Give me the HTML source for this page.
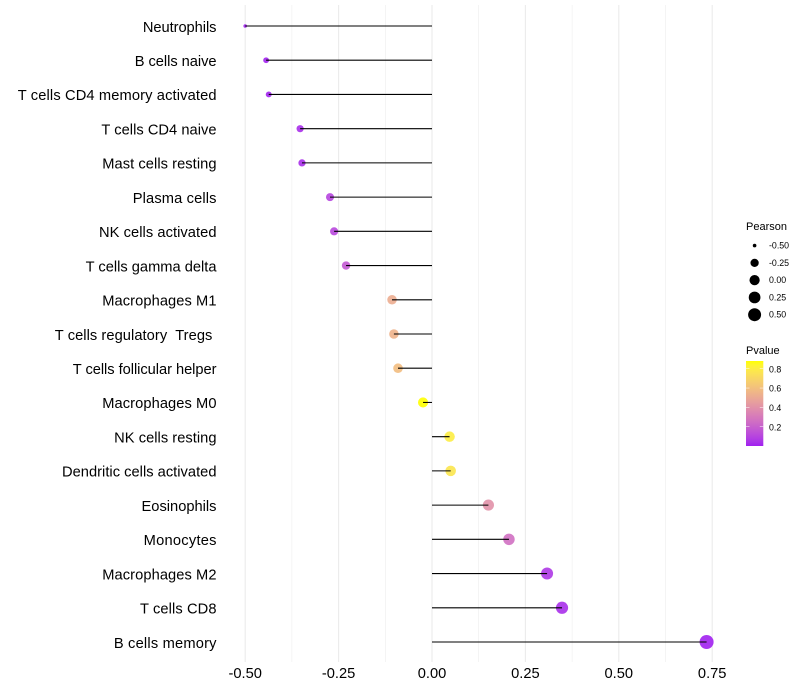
<!DOCTYPE html>
<html>
<head>
<meta charset="utf-8">
<title>Immune cell correlation lollipop chart</title>
<style>
html,body{margin:0;padding:0;background:#fff;}
svg{display:block;}
text{font-family:"Liberation Sans",sans-serif;}
</style>
</head>
<body>
<svg id="chart" xmlns="http://www.w3.org/2000/svg" width="800" height="700" viewBox="0 0 800 700">
<defs>
<linearGradient id="pvalue-gradient" x1="0" y1="1" x2="0" y2="0"></linearGradient>
</defs>
<rect x="0" y="0" width="800" height="700" fill="#ffffff"></rect>
<g id="grid"></g>
<g id="marks"></g>
<g id="ylabels"></g>
<g id="xlabels"></g>
<g id="size-legend"></g>
<g id="color-legend"></g>
</svg>
<script>
const categories = ["Neutrophils","B cells naive","T cells CD4 memory activated","T cells CD4 naive","Mast cells resting","Plasma cells","NK cells activated","T cells gamma delta","Macrophages M1","T cells regulatory  Tregs ","T cells follicular helper","Macrophages M0","NK cells resting","Dendritic cells activated","Eosinophils","Monocytes","Macrophages M2","T cells CD8","B cells memory"];
const pearson = [-0.5,-0.444,-0.437,-0.353,-0.348,-0.273,-0.262,-0.23,-0.107,-0.102,-0.091,-0.024,0.047,0.05,0.151,0.206,0.308,0.348,0.735];
const pvalue = [0.004,0.008,0.01,0.035,0.035,0.1,0.11,0.17,0.52,0.54,0.59,0.88,0.8,0.77,0.4,0.26,0.06,0.035,0.003];
const xTicks = [-0.5,-0.25,0,0.25,0.5,0.75];
const xTickLabels = ["-0.50","-0.25","0.00","0.25","0.50","0.75"];
const xMinorTicks = [-0.375,-0.125,0.125,0.375,0.625];
const sizeLegendValues = [-0.5,-0.25,0,0.25,0.5];
const sizeLegendLabels = ["-0.50","-0.25","0.00","0.25","0.50"];
const colorLegendTicks = [0.8,0.6,0.4,0.2];
const colorLegendLabels = ["0.8","0.6","0.4","0.2"];

const svgNS = "http://www.w3.org/2000/svg";
function make(tag, attrs, parent, txt) {
  const el = document.createElementNS(svgNS, tag);
  for (const k in attrs) el.setAttribute(k, attrs[k]);
  if (txt !== undefined) el.textContent = txt;
  parent.appendChild(el);
  return el;
}
function slug(s) { return s.trim().toLowerCase().replace(/[^a-z0-9]+/g, "-"); }

/* axis functions */
const xScale = v => 432 + v * 373.6;
const yScale = i => 26 + i * (616 / (categories.length - 1));
const pMin = 0, pMax = 0.88;
const pY = p => 446 - (p - pMin) / (pMax - pMin) * 85;
const sMin = -0.5, sMax = 0.735;
const radius = v => 1.8 + 5.2 * Math.sqrt(Math.max(0, (v - sMin) / (sMax - sMin)));

/* Lab interpolation purple to yellow */
function toLab(rgb) {
  const l = rgb.map(c => { c /= 255; return c > 0.04045 ? Math.pow((c + 0.055) / 1.055, 2.4) : c / 12.92; });
  const X = (0.4124 * l[0] + 0.3576 * l[1] + 0.1805 * l[2]) / 0.95047;
  const Y = 0.2126 * l[0] + 0.7152 * l[1] + 0.0722 * l[2];
  const Z = (0.0193 * l[0] + 0.1192 * l[1] + 0.9505 * l[2]) / 1.08883;
  const f = t => t > 0.008856 ? Math.cbrt(t) : 7.787 * t + 16 / 116;
  return [116 * f(Y) - 16, 500 * (f(X) - f(Y)), 200 * (f(Y) - f(Z))];
}
function fromLab(lab) {
  const fy = (lab[0] + 16) / 116, fx = fy + lab[1] / 500, fz = fy - lab[2] / 200;
  const g = t => t * t * t > 0.008856 ? t * t * t : (t - 16 / 116) / 7.787;
  const X = g(fx) * 0.95047, Y = g(fy), Z = g(fz) * 1.08883;
  const r = [3.2406 * X - 1.5372 * Y - 0.4986 * Z, -0.9689 * X + 1.8758 * Y + 0.0415 * Z, 0.0557 * X - 0.204 * Y + 1.057 * Z];
  return "rgb(" + r.map(c => {
    c = Math.min(1, Math.max(0, c));
    c = c > 0.0031308 ? 1.055 * Math.pow(c, 1 / 2.4) - 0.055 : 12.92 * c;
    return Math.round(c * 255);
  }).join(",") + ")";
}
const labLow = toLab([160, 32, 240]), labHigh = toLab([255, 255, 0]);
function pColor(p) {
  const t = Math.min(1, Math.max(0, (p - pMin) / (pMax - pMin)));
  return fromLab(labLow.map((a, i) => a + (labHigh[i] - a) * t));
}

/* grid */
const grid = document.getElementById("grid");
xMinorTicks.forEach(v => {
  const l = make("line", {x1: xScale(v), x2: xScale(v), y1: 5, y2: 662, stroke: "#ebebeb", "stroke-width": 0.53}, grid);
  
  
});
xTicks.forEach(v => {
  const l = make("line", {x1: xScale(v), x2: xScale(v), y1: 5, y2: 662, stroke: "#ebebeb", "stroke-width": 1.07}, grid);
  
  
});

/* marks */
const marks = document.getElementById("marks");
categories.forEach((c, i) => {
  const pt = make("circle", {cx: xScale(pearson[i]), cy: yScale(i), r: radius(pearson[i]), fill: pColor(pvalue[i]), "fill-opacity": 0.9}, marks);
  
  
});
categories.forEach((c, i) => {
  const ln = make("line", {x1: xScale(0), x2: xScale(pearson[i]), y1: yScale(i), y2: yScale(i), stroke: "#000000", "stroke-width": 1.07}, marks);
  
  
});

/* y labels: small per-label width corrections mimic the hinted advances of the reference font rendering */
const labelWidthFit = {"Neutrophils":-0.5,"B cells naive":-0.5,"T cells CD4 memory activated":3.5,"T cells CD4 naive":0.5,"Mast cells resting":1,"Plasma cells":1.5,"NK cells activated":1,"T cells gamma delta":0,"Macrophages M1":1,"T cells regulatory  Tregs ":1.5,"T cells follicular helper":-1,"Macrophages M0":1,"NK cells resting":0.5,"Dendritic cells activated":0.5,"Eosinophils":0,"Monocytes":2,"Macrophages M2":1,"T cells CD8":1,"B cells memory":2.5};
const yl = document.getElementById("ylabels");
categories.forEach((c, i) => {
  const t = make("text", {x: 216.5, y: yScale(i) + 5.8, "text-anchor": "end", "font-size": 14.67, fill: "#000000"}, yl, c);
  t.setAttribute("xml:space", "preserve");
  t.style.whiteSpace = "pre";
  
  
  const fit = labelWidthFit[c] || 0;
  t.setAttribute("textLength", (t.getComputedTextLength() + fit).toFixed(2));
  t.setAttribute("lengthAdjust", "spacing");
});

/* x labels */
const xl = document.getElementById("xlabels");
xTicks.forEach((v, i) => {
  const t = make("text", {x: xScale(v), y: 678, "text-anchor": "middle", "font-size": 14.67, fill: "#000000"}, xl, xTickLabels[i]);
  
  
});

/* size legend */
const sl = document.getElementById("size-legend");
const slTitle = make("text", {x: 746, y: 230, "font-size": 11, fill: "#000000"}, sl, "Pearson");


sizeLegendValues.forEach((v, i) => {
  const y = 245.6 + i * 17.28;
  const dot = make("circle", {cx: 754.6, cy: y, r: radius(v), fill: "#000000"}, sl);
  
  
  const t = make("text", {x: 769, y: y + 3, "font-size": 8.8, fill: "#000000"}, sl, sizeLegendLabels[i]);
  
  
});

/* colour legend */
const grad = document.getElementById("pvalue-gradient");
for (let i = 0; i <= 20; i++) {
  make("stop", {offset: (i / 20), "stop-color": pColor(pMin + (pMax - pMin) * i / 20)}, grad);
}
const cl = document.getElementById("color-legend");
const clTitle = make("text", {x: 746, y: 354, "font-size": 11, fill: "#000000"}, cl, "Pvalue");


const bar = make("rect", {x: 746, y: 361, width: 17.3, height: 85, fill: "url(#pvalue-gradient)"}, cl);


colorLegendTicks.forEach((p, i) => {
  const y = pY(p);
  const a = make("line", {x1: 746, x2: 749.5, y1: y, y2: y, stroke: "#ffffff", "stroke-width": 0.5}, cl);
  
  
  const b = make("line", {x1: 759.8, x2: 763.3, y1: y, y2: y, stroke: "#ffffff", "stroke-width": 0.5}, cl);
  
  
  const t = make("text", {x: 769, y: y + 3.6, "font-size": 8.8, fill: "#000000"}, cl, colorLegendLabels[i]);
  
  
});
</script>
</body>
</html>
